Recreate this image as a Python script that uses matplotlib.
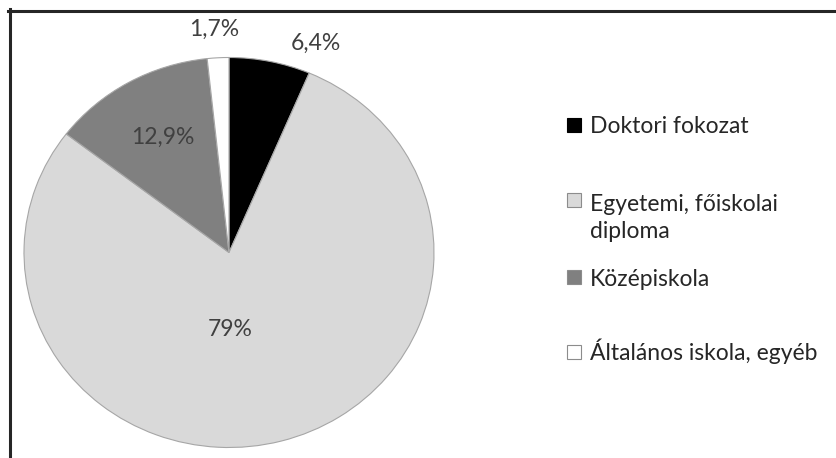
import math
import matplotlib
matplotlib.use('Agg')
import matplotlib.pyplot as plt
from matplotlib.patches import Rectangle
from matplotlib.lines import Line2D

categories = ['Doktori fokozat', 'Egyetemi, főiskolai\ndiploma', 'Középiskola',
              'Általános iskola, egyéb']
values = [6.4, 79, 12.9, 1.7]
colors = ['#000000', '#d9d9d9', '#808080', '#ffffff']

# label placement (radius in pie units, angle nudge in degrees)
label_r = [1.155, 0.397, 0.674, 1.146]
label_nudge = [-10, -14, -0.8, 0.6]
# legend rows (figure pixels from top, first line)
legend_y = [125, 200, 277, 352]

W, H = 837, 458
plt.rcParams['font.family'] = ['Lato', 'DejaVu Sans']


def main():
    fig = plt.figure(figsize=(W / 100, H / 100), dpi=100)
    fig.patch.set_facecolor('white')

    # frame (only left and top visible)
    fig.add_artist(Line2D([9.5 / W, 9.5 / W], [0, 1 - 9 / H], color='#262626', lw=2.2))
    fig.add_artist(Line2D([8.4 / W, 1], [1 - 10.5 / H, 1 - 10.5 / H], color='#262626', lw=2.2))

    cx, cy, rx, ry = 229, 252.5, 205, 195
    ax = fig.add_axes([(cx - rx) / W, (H - cy - ry) / H, 2 * rx / W, 2 * ry / H])
    wedges, _ = ax.pie(values, colors=colors, startangle=90, counterclock=False,
                       wedgeprops=dict(edgecolor='#a6a6a6', linewidth=0.8))
    ax.set_aspect('auto')
    ax.set_xlim(-1, 1)
    ax.set_ylim(-1, 1)
    ax.set_axis_off()

    for w, v, rr, nd in zip(wedges, values, label_r, label_nudge):
        mid = (w.theta1 + w.theta2) / 2 + nd
        txt = f'{v:g}'.replace('.', ',') + '%'
        ax.text(rr * math.cos(math.radians(mid)), rr * math.sin(math.radians(mid)), txt,
                ha='center', va='center', fontsize=16.5, color='#404040', clip_on=False)

    line_px = 30
    for cat, col, y in zip(categories, colors, legend_y):
        ec = '#000000' if col == '#000000' else '#8c8c8c'
        fig.add_artist(Rectangle((567.5 / W, 1 - (y + 7) / H), 14 / W, 14 / H,
                                 facecolor=col, edgecolor=ec, lw=0.8))
        base = y + 8.5 + cat.count('\n') * line_px
        fig.text(590 / W, 1 - base / H, cat, ha='left', va='baseline', fontsize=16.5,
                 color='#262626', linespacing=1.39)

    fig.savefig('out.png', dpi=100)


if __name__ == '__main__':
    main()
